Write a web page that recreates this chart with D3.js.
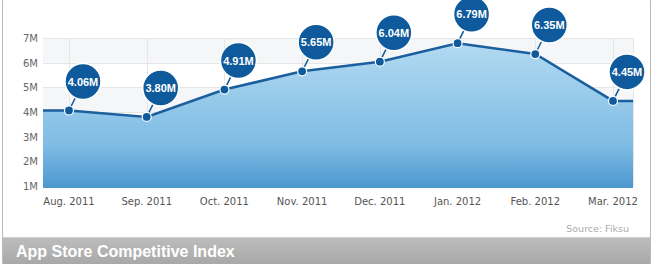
<!DOCTYPE html>
<html>
<head>
<meta charset="utf-8">
<script src="https://cdn.jsdelivr.net/npm/d3@7"></script>
<style>
  html, body { margin: 0; padding: 0; background: #fff; }
  svg { display: block; font-family: "DejaVu Sans", Verdana, sans-serif; }
</style>
</head>
<body>
<div id="chart"></div>
<script>
// DATA ////////////////////////////////////////////////////////////////////////
const months = ["Aug. 2011", "Sep. 2011", "Oct. 2011", "Nov. 2011", "Dec. 2011", "Jan. 2012", "Feb. 2012", "Mar. 2012"];
const values = [4.06, 3.80, 4.91, 5.65, 6.04, 6.79, 6.35, 4.45];
const yTicks = [1, 2, 3, 4, 5, 6, 7];
const title = "App Store Competitive Index";
const source = "Source: Fiksu";

// CHART ///////////////////////////////////////////////////////////////////////
const w = 655, h = 264;
const plot = { left: 43, right: 633, top: 38, bottom: 186 };

const svg = d3.select("#chart").append("svg")
  .attr("width", w)
  .attr("height", h);

const defs = svg.append("defs");
const areaGrad = defs.append("linearGradient")
  .attr("id", "areaGrad").attr("x1", 0).attr("y1", 0).attr("x2", 0).attr("y2", 1);
areaGrad.append("stop").attr("offset", "0%").attr("stop-color", "#b2daf1");
areaGrad.append("stop").attr("offset", "70%").attr("stop-color", "#7fbce4");
areaGrad.append("stop").attr("offset", "100%").attr("stop-color", "#4b98d0");

const barGrad = defs.append("linearGradient")
  .attr("id", "barGrad").attr("x1", 0).attr("y1", 0).attr("x2", 0).attr("y2", 1);
barGrad.append("stop").attr("offset", "0%").attr("stop-color", "#bdbdbd");
barGrad.append("stop").attr("offset", "100%").attr("stop-color", "#a6a6a6");

// card frame
svg.append("rect")
  .attr("x", 2.5).attr("y", -8).attr("width", 648).attr("height", 280)
  .attr("rx", 10)
  .attr("fill", "#fff")
  .attr("stroke", "#b9b9b9");

const x = d3.scalePoint()
  .domain(months)
  .range([69, 613]);

const y = d3.scaleLinear()
  .domain([1, 7])
  .range([plot.bottom, plot.top]);

// alternating bands
const bands = svg.append("g");
yTicks.slice(0, -1).forEach(function(t) {
  if (t % 2 === 0) {
    bands.append("rect")
      .attr("x", plot.left).attr("width", plot.right - plot.left)
      .attr("y", y(t + 1)).attr("height", y(t) - y(t + 1))
      .attr("fill", "#f5f6f8");
  }
});

// grid
const grid = svg.append("g").attr("stroke", "#e6e6e6").attr("stroke-width", 1);
grid.selectAll(".hg").data(yTicks).enter().append("line")
  .attr("x1", plot.left).attr("x2", plot.right)
  .attr("y1", function(d) { return Math.round(y(d)) + 0.5; })
  .attr("y2", function(d) { return Math.round(y(d)) + 0.5; });
grid.selectAll(".vg").data(months).enter().append("line")
  .attr("x1", function(d) { return Math.round(x(d)) + 0.5; })
  .attr("x2", function(d) { return Math.round(x(d)) + 0.5; })
  .attr("y1", plot.top).attr("y2", plot.bottom);
grid.append("line")
  .attr("x1", plot.right + 0.5).attr("x2", plot.right + 0.5)
  .attr("y1", plot.top).attr("y2", plot.bottom);

// points incl. flat extension to plot edges
const pts = months.map(function(m, i) { return [x(m), y(values[i])]; });
const ext = [[plot.left, y(values[0])]].concat(pts, [[plot.right, y(values[values.length - 1])]]);

const area = d3.area()
  .x(function(d) { return d[0]; })
  .y0(plot.bottom + 2)
  .y1(function(d) { return d[1]; });

const line = d3.line()
  .x(function(d) { return d[0]; })
  .y(function(d) { return d[1]; });

svg.append("path")
  .attr("d", area(ext))
  .attr("fill", "url(#areaGrad)");

svg.append("path")
  .attr("d", line(ext))
  .attr("fill", "none")
  .attr("stroke", "#1b5f9e")
  .attr("stroke-width", 2.5);

// axis labels
svg.append("g").selectAll("text").data(yTicks).enter().append("text")
  .attr("x", 38)
  .attr("y", function(d) { return y(d) + 4; })
  .attr("text-anchor", "end")
  .attr("font-size", "10px")
  .attr("fill", "#666")
  .text(function(d) { return d + "M"; });

svg.append("g").selectAll("text").data(months).enter().append("text")
  .attr("x", function(d) { return x(d); })
  .attr("y", 205)
  .attr("text-anchor", "middle")
  .attr("font-size", "10px")
  .attr("fill", "#555")
  .text(function(d) { return d; });

// markers + bubbles
const bubble = svg.append("g").selectAll("g").data(pts).enter().append("g");

bubble.append("line")
  .attr("x1", function(d) { return d[0]; })
  .attr("y1", function(d) { return d[1]; })
  .attr("x2", function(d) { return d[0] + 14; })
  .attr("y2", function(d) { return d[1] - 28; })
  .attr("stroke", "#0e5a9c")
  .attr("stroke-width", 1.5);

bubble.append("circle")
  .attr("cx", function(d) { return d[0]; })
  .attr("cy", function(d) { return d[1]; })
  .attr("r", 4.5)
  .attr("fill", "#0e5a9c")
  .attr("stroke", "#fff")
  .attr("stroke-width", 1.2);

bubble.append("circle")
  .attr("cx", function(d) { return d[0] + 14; })
  .attr("cy", function(d) { return d[1] - 29; })
  .attr("r", 18)
  .attr("fill", "#0e5a9c")
  .attr("stroke", "#fff")
  .attr("stroke-width", 1.5);

bubble.append("text")
  .attr("x", function(d) { return d[0] + 14; })
  .attr("y", function(d) { return d[1] - 25; })
  .attr("text-anchor", "middle")
  .attr("font-family", "Liberation Sans, Arial, sans-serif")
  .attr("font-size", "11px")
  .attr("font-weight", "bold")
  .attr("fill", "#fff")
  .text(function(d, i) { return values[i].toFixed(2) + "M"; });

// source
svg.append("text")
  .attr("x", 629).attr("y", 232)
  .attr("text-anchor", "end")
  .attr("font-size", "9.5px")
  .attr("fill", "#aaa")
  .text(source);

// bottom title bar
svg.append("rect")
  .attr("x", 3).attr("y", 237).attr("width", 647).attr("height", 30)
  .attr("fill", "url(#barGrad)");
svg.append("line")
  .attr("x1", 3).attr("x2", 650).attr("y1", 237.5).attr("y2", 237.5)
  .attr("stroke", "#d0d0d0");

svg.append("text")
  .attr("x", 16).attr("y", 257)
  .attr("font-family", "Liberation Sans, Arial, sans-serif")
  .attr("font-size", "16px")
  .attr("font-weight", "bold")
  .attr("fill", "#fff")
  .text(title);
</script>
</body>
</html>
